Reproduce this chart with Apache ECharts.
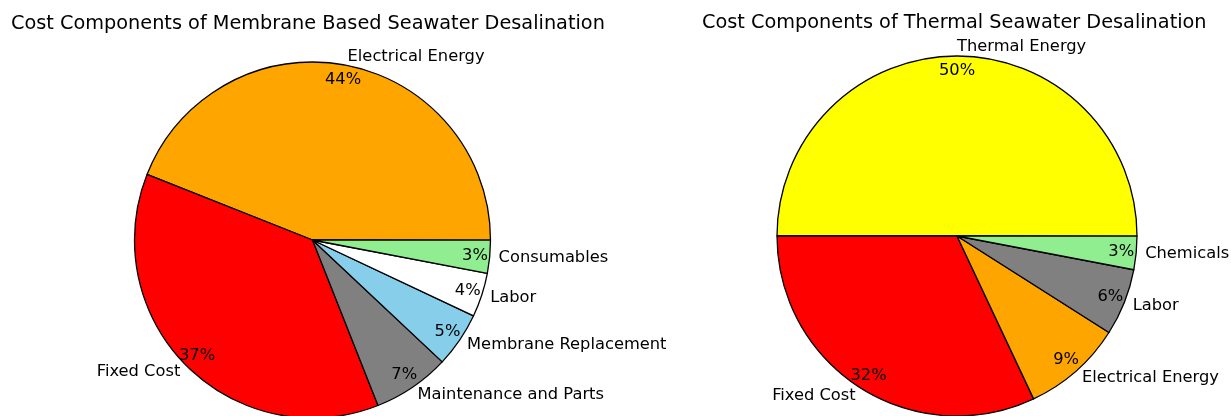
<!DOCTYPE html>
<html>
<head>
<meta charset="utf-8">
<script src="https://cdn.jsdelivr.net/npm/echarts@6/dist/echarts.min.js"></script>
<style>html,body{margin:0;padding:0;background:#fff}#main{width:1231px;height:416px}</style>
</head>
<body>
<div id="main"></div>
<script>
// membrane based desalination
let membraneNames = ['Electrical Energy', 'Fixed Cost', 'Maintenance and Parts', 'Membrane Replacement', 'Labor', 'Consumables'];
let membraneValues = [44, 37, 7, 5, 4, 3];
let membraneColors = ['#ffa500', '#ff0000', '#808080', '#87ceeb', '#ffffff', '#90ee90'];
// thermal desalination
let thermalNames = ['Thermal Energy', 'Fixed Cost', 'Electrical Energy', 'Labor', 'Chemicals'];
let thermalValues = [50, 32, 9, 6, 3];
let thermalColors = ['#ffff00', '#ff0000', '#ffa500', '#808080', '#90ee90'];

let font = 'DejaVu Sans';
let labelSize = 16.3;

function toData(names, values, colors) {
    return names.map((n, i) => ({name: n, value: values[i], itemStyle: colors ? {color: colors[i]} : undefined}));
}

// startAngle a hair below 0 so a label sitting at the top goes to the right side (like matplotlib)
function pieSeries(names, values, colors, center, r) {
    return [{
        type: 'pie', center: center, radius: r, startAngle: -0.01, clockwise: false,
        avoidLabelOverlap: false, silent: true,
        itemStyle: {borderColor: '#000', borderWidth: 1.3},
        label: {position: 'outside', color: '#000', fontFamily: font, fontSize: labelSize, distanceToLabelLine: 0},
        labelLine: {show: false, length: r * 0.05, length2: 0},
        data: toData(names, values, colors)
    }, {
        // ring only used to place the % text at 0.9r
        type: 'pie', center: center, radius: [r * 0.8, r], startAngle: -0.01, clockwise: false,
        avoidLabelOverlap: false, silent: true,
        itemStyle: {color: 'transparent', borderWidth: 0},
        label: {position: 'inside', color: '#000', fontFamily: font, fontSize: labelSize, formatter: p => p.value + '%'},
        labelLine: {show: false},
        data: toData(names, values)
    }];
}

let myChart = echarts.init(document.getElementById('main'));
let option = {
    animation: false,
    backgroundColor: '#fff',
    title: [
        {text: 'Cost Components of Membrane Based Seawater Desalination', left: 11, top: 14, padding: 0,
            textStyle: {fontFamily: font, fontSize: 19.3, fontWeight: 'normal', color: '#000'}},
        {text: 'Cost Components of Thermal Seawater Desalination', left: 702, top: 13, padding: 0,
            textStyle: {fontFamily: font, fontSize: 19.3, fontWeight: 'normal', color: '#000'}}
    ],
    series: [].concat(
        pieSeries(membraneNames, membraneValues, membraneColors, [312.5, 240], 178),
        pieSeries(thermalNames, thermalValues, thermalColors, [957, 236], 180)
    )
};
myChart.setOption(option, true);
</script>
</body>
</html>
